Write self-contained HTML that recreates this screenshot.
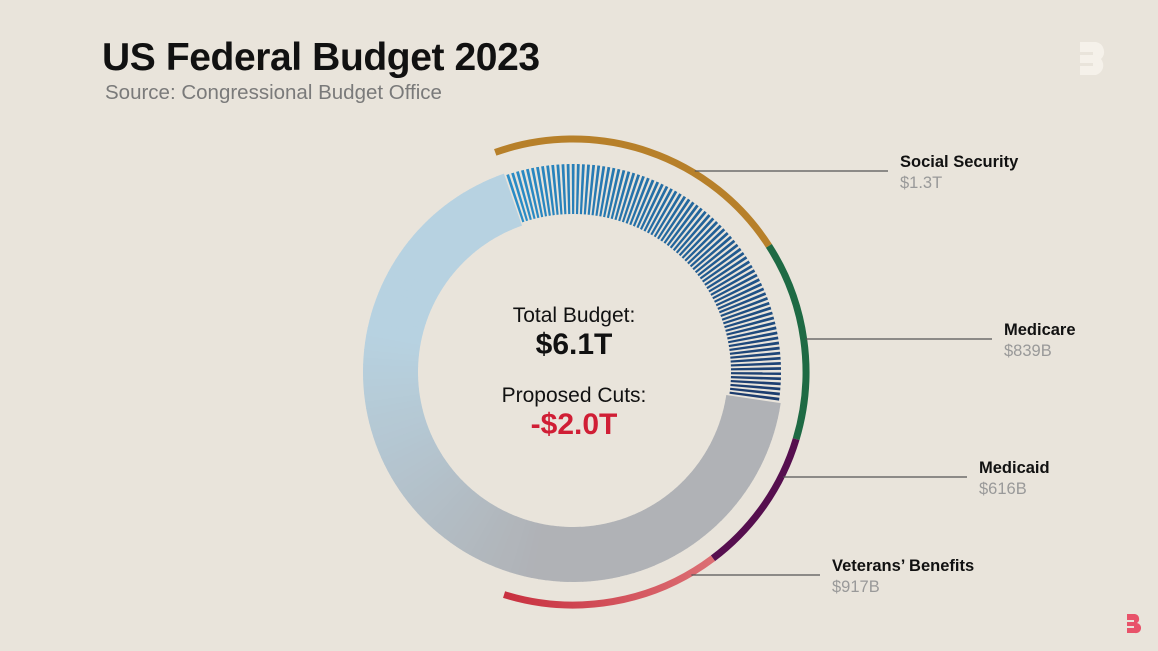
<!DOCTYPE html>
<html><head><meta charset="utf-8">
<style>
body{margin:0;width:1158px;height:651px;background:#e9e4db;overflow:hidden;font-family:"Liberation Sans",sans-serif;}
svg{position:absolute;left:0;top:0}
</style></head>
<body>
<svg width="1158" height="651" id="chart">
<defs>
<linearGradient id="vet" x1="0" x2="1" y1="0" y2="0"><stop offset="0" stop-color="#c8303f"/><stop offset="1" stop-color="#dc6f74"/></linearGradient>
</defs>
<text x="102" y="70" font-size="39" font-weight="bold" fill="#111" letter-spacing="-0.4">US Federal Budget 2023</text>
<text x="105" y="99" font-size="20.5" fill="#7a7a7a">Source: Congressional Budget Office</text>
<path d="M1080 42 h16 a10 10 0 0 1 5 17 a10 10 0 0 1 -5 16 h-16 v-9 h13 v-3 h-13 v-8 h13 v-3 h-13z" fill="#f5f1ea"/>
<g id="ring"></g>
<g id="stripes"></g>
<g id="arcs"></g>
<g id="labels"></g>
<text x="574" y="322" font-size="21" text-anchor="middle" fill="#111">Total Budget:</text>
<text x="574" y="354" font-size="30" font-weight="bold" text-anchor="middle" fill="#111" id="totalVal"></text>
<text x="574" y="402" font-size="21" text-anchor="middle" fill="#111">Proposed Cuts:</text>
<text x="574" y="434" font-size="30" font-weight="bold" text-anchor="middle" fill="#d01e35" id="cutsVal"></text>
<path d="M1127 614 h8 a5 5 0 0 1 2 9 a5 5 0 0 1 -2 10 h-8 v-5 h7 v-2 h-7 v-4 h7 v-2 h-7z" fill="#e8536a"/>
</svg>
<script>
const categories=["Social Security","Medicare","Medicaid","Veterans’ Benefits"];
const values=[1300,839,616,917];
const valueLabels=["$1.3T","$839B","$616B","$917B"];
const total=6100;
const cuts=2000;
const arcColors=["#b7802a","#1e6a44","#560f4f","url(#vet)"];
const labelY=[171,339,477,575];
const labelX=[900,1004,979,832];
const NS="http://www.w3.org/2000/svg";
const cx=573,cy=372,rOut=210,rIn=155,rArc=233,start=-19.5;
function ang(v){return start+v/total*360;}
function pt(a,r){const t=a*Math.PI/180;return [cx+r*Math.sin(t),cy-r*Math.cos(t)];}
function arcPath(a0,a1,r){const p0=pt(a0,r),p1=pt(a1,r);return `M${p0[0]} ${p0[1]} A${r} ${r} 0 ${a1-a0>180?1:0} 1 ${p1[0]} ${p1[1]}`;}
function mk(tag,attrs,parent){const e=document.createElementNS(NS,tag);for(const k in attrs)e.setAttribute(k,attrs[k]);parent.appendChild(e);return e;}
document.getElementById('totalVal').textContent="$"+(total/1000).toFixed(1)+"T";
document.getElementById('cutsVal').textContent="-$"+(cuts/1000).toFixed(1)+"T";
const ring=document.getElementById('ring');
const aCut=ang(cuts),steps=120,rm=(rOut+rIn)/2;
for(let i=0;i<steps;i++){
  const a0=aCut+(360-(aCut-start))*i/steps,a1=aCut+(360-(aCut-start))*(i+1)/steps+0.3;
  const f=Math.min(1,Math.max(0,(a0-190)/90));
  const c0=[176,178,182],c1=[183,210,225];
  const col=`rgb(${c0.map((c,j)=>Math.round(c+(c1[j]-c)*f)).join(',')})`;
  const p=mk('path',{d:arcPath(a0,a1,rm),stroke:col,'stroke-width':rOut-rIn,fill:'none'},ring);
  
  
}
const sg=document.getElementById('stripes');
const n=Math.round(cuts/24);
const span=(aCut-start-0.8)/n;
for(let i=0;i<n;i++){
  const a0=start+0.8+span*i,a1=a0+span*0.55;
  const f=i/(n-1);
  const col=`rgb(${Math.round(42-14*f)},${Math.round(140-80*f)},${Math.round(198-88*f)})`;
  const r1=rIn+3,r2=rOut-2;
  const p0=pt(a0,r1),p1=pt(a0,r2),p2=pt(a1,r2),p3=pt(a1,r1);
  const w=mk('path',{d:`M${p0} L${p1} L${p2} L${p3}Z`,fill:col},sg);
  
  
}
const ag=document.getElementById('arcs'),lg=document.getElementById('labels');
let acc=0;
values.forEach((v,i)=>{
  const a0=ang(acc),a1=ang(acc+v);acc+=v;
  const p=mk('path',{d:arcPath(a0,a1,rArc),stroke:arcColors[i],'stroke-width':7,fill:'none'},ag);
  
  
  const y=labelY[i];
  const dy=y-cy;
  const xa=cx+Math.sqrt(Math.max(0,(rArc+2)**2-dy*dy));
  const ln=mk('line',{x1:xa,y1:y,x2:labelX[i]-12,y2:y,stroke:'#555','stroke-width':1.3},lg);
  
  
  const t=mk('text',{x:labelX[i],y:y-4,'font-size':16.5,'font-weight':'bold',fill:'#111'},lg);
  t.textContent=categories[i];
  
  
  const t2=mk('text',{x:labelX[i],y:y+17,'font-size':16.5,fill:'#999'},lg);
  t2.textContent=valueLabels[i];
  
  
});
</script>
</body></html>
